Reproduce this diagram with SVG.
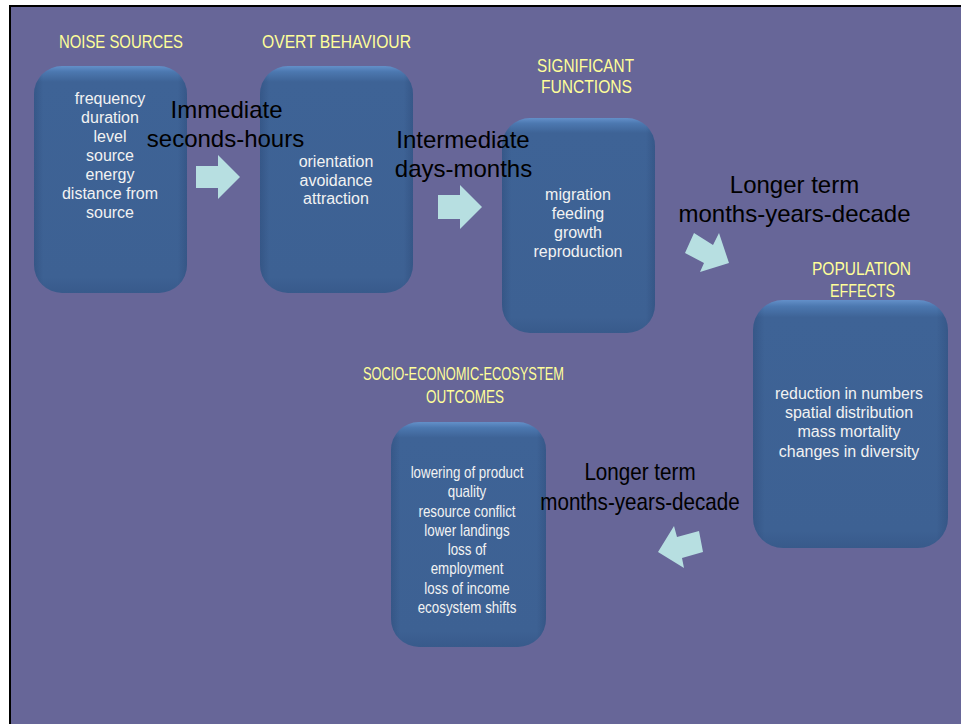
<svg xmlns="http://www.w3.org/2000/svg" width="961" height="724" viewBox="0 0 961 724">
<defs>
<linearGradient id="boxV" x1="0" y1="0" x2="0" y2="1">
<stop offset="0" stop-color="#6390C9"/>
<stop offset="0.025" stop-color="#4C78B0"/>
<stop offset="0.07" stop-color="#3E6396"/>
<stop offset="0.93" stop-color="#3D6193"/>
<stop offset="1" stop-color="#385A8B"/>
</linearGradient>
<linearGradient id="boxH" x1="0" y1="0" x2="1" y2="0">
<stop offset="0" stop-color="#1E3560" stop-opacity="0.25"/>
<stop offset="0.06" stop-color="#1E3560" stop-opacity="0"/>
<stop offset="0.94" stop-color="#1E3560" stop-opacity="0"/>
<stop offset="1" stop-color="#1E3560" stop-opacity="0.25"/>
</linearGradient>
<style>
.box{fill:url(#boxV);}
.side{fill:url(#boxH);}
.head{font-family:"Liberation Sans",Arial,sans-serif;font-size:18px;fill:#FFFF99;text-anchor:middle;}
.item{font-family:"Liberation Sans",Arial,sans-serif;font-size:16px;fill:#F2F2F2;text-anchor:middle;}
.lbl{font-family:"Liberation Sans",Arial,sans-serif;font-size:24px;fill:#000000;text-anchor:middle;}
.arrow{fill:#B7DFE1;}
</style>
</defs>
<rect x="0" y="0" width="961" height="724" fill="#FFFFFF"/>
<rect x="9" y="5" width="952" height="719" fill="#000000"/>
<rect x="11" y="7" width="950" height="717" fill="#676698"/>

<g id="node-noise-sources">
<text class="head" x="121" y="48" textLength="124" lengthAdjust="spacingAndGlyphs">NOISE SOURCES</text>
<rect class="box" x="34" y="66" width="153" height="227" rx="28"/>
<rect class="side" x="34" y="66" width="153" height="227" rx="28"/>
<text class="item" x="110" y="104">frequency</text>
<text class="item" x="110" y="123">duration</text>
<text class="item" x="110" y="142">level</text>
<text class="item" x="110" y="161">source</text>
<text class="item" x="110" y="180">energy</text>
<text class="item" x="110" y="199">distance from</text>
<text class="item" x="110" y="218">source</text>
</g>

<g id="node-overt-behaviour">
<text class="head" x="336.5" y="48" textLength="149" lengthAdjust="spacingAndGlyphs">OVERT BEHAVIOUR</text>
<rect class="box" x="260" y="66" width="153" height="227" rx="28"/>
<rect class="side" x="260" y="66" width="153" height="227" rx="28"/>
<text class="item" x="336" y="167">orientation</text>
<text class="item" x="336" y="186">avoidance</text>
<text class="item" x="336" y="204">attraction</text>
</g>

<g id="node-significant-functions">
<text class="head" x="585.5" y="72" textLength="97" lengthAdjust="spacingAndGlyphs">SIGNIFICANT</text>
<text class="head" x="586.5" y="93" textLength="91" lengthAdjust="spacingAndGlyphs">FUNCTIONS</text>
<rect class="box" x="502" y="118" width="153" height="215" rx="28"/>
<rect class="side" x="502" y="118" width="153" height="215" rx="28"/>
<text class="item" x="578" y="200">migration</text>
<text class="item" x="578" y="219">feeding</text>
<text class="item" x="578" y="238">growth</text>
<text class="item" x="578" y="257">reproduction</text>
</g>

<g id="node-population-effects">
<text class="head" x="861.5" y="275" textLength="99" lengthAdjust="spacingAndGlyphs">POPULATION</text>
<text class="head" x="862.5" y="297" textLength="65" lengthAdjust="spacingAndGlyphs">EFFECTS</text>
<rect class="box" x="753" y="300" width="195" height="248" rx="30"/>
<rect class="side" x="753" y="300" width="195" height="248" rx="30"/>
<text class="item" x="849" y="399" textLength="148" lengthAdjust="spacingAndGlyphs">reduction in numbers</text>
<text class="item" x="849" y="418">spatial distribution</text>
<text class="item" x="849" y="437">mass mortality</text>
<text class="item" x="849" y="456.5">changes in diversity</text>
</g>

<g id="node-socio-economic-ecosystem-outcomes">
<text class="head" x="463.5" y="380" textLength="201" lengthAdjust="spacingAndGlyphs">SOCIO-ECONOMIC-ECOSYSTEM</text>
<text class="head" x="465" y="403" textLength="78" lengthAdjust="spacingAndGlyphs">OUTCOMES</text>
<rect class="box" x="391" y="422" width="155" height="225" rx="28"/>
<rect class="side" x="391" y="422" width="155" height="225" rx="28"/>
<g transform="translate(467,0) scale(0.835,1)">
<text class="item" x="0" y="478">lowering of product</text>
<text class="item" x="0" y="497.3">quality</text>
<text class="item" x="0" y="516.6">resource conflict</text>
<text class="item" x="0" y="535.9">lower landings</text>
<text class="item" x="0" y="555.2">loss of</text>
<text class="item" x="0" y="574.5">employment</text>
<text class="item" x="0" y="593.8">loss of income</text>
<text class="item" x="0" y="613.1">ecosystem shifts</text>
</g>
</g>

<g id="connectors">
<polygon class="arrow" points="196,166 218,166 218,155 240,177 218,199 218,188 196,188"/>
<polygon class="arrow" points="438,195 460,195 460,185 482,207 460,229 460,219 438,219"/>
<polygon class="arrow" points="694,233 713,245 719,233 729,263 700,272 704,263 685,253"/>
<polygon class="arrow" points="674,526 677,537 699,531 703,552 682,558 684,568 658,552"/>
<text class="lbl" x="226.5" y="118">Immediate</text>
<text class="lbl" x="225.5" y="147">seconds-hours</text>
<text class="lbl" x="463" y="148">Intermediate</text>
<text class="lbl" x="463.5" y="177">days-months</text>
<text class="lbl" x="794.5" y="193">Longer term</text>
<text class="lbl" x="794.5" y="222">months-years-decade</text>
<g transform="translate(640,0) scale(0.86,1)">
<text class="lbl" x="0" y="480">Longer term</text>
<text class="lbl" x="0" y="510">months-years-decade</text>
</g>
</g>
</svg>
